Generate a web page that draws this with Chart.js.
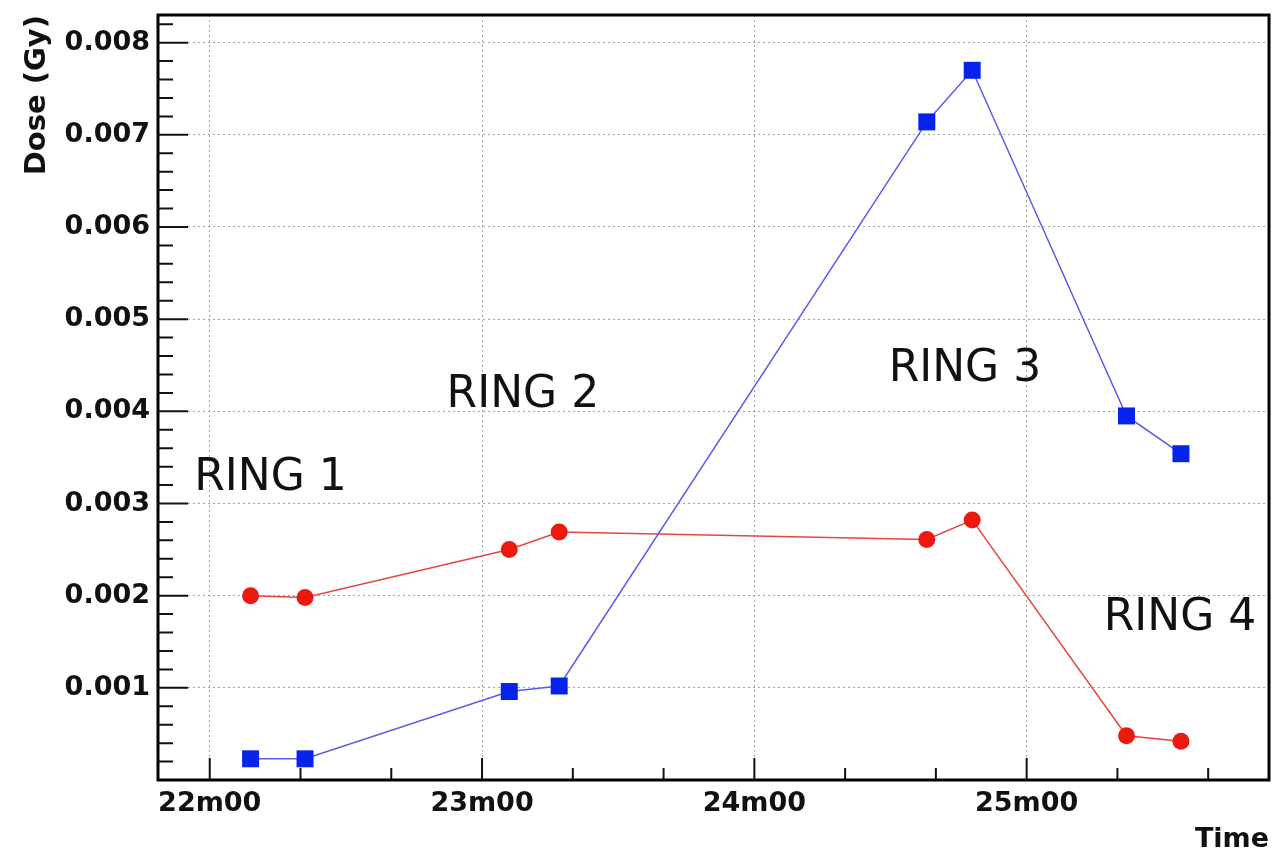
<!DOCTYPE html>
<html>
<head>
<meta charset="utf-8">
<script src="https://cdn.jsdelivr.net/npm/chart.js@4"></script>
<style>
  html, body { margin: 0; padding: 0; background: #fff; }
  canvas { display: block; }
</style>
</head>
<body>
<canvas id="doseChart" width="1281" height="856"></canvas>
<script>
// time of each measurement, in seconds
const times = [1329, 1341, 1386, 1397, 1478, 1488, 1522, 1534];
// dose readings (Gy)
const doseSquares = [0.00023, 0.00023, 0.00096, 0.00102, 0.00714, 0.0077, 0.00395, 0.00354];
const doseCircles = [0.00200, 0.00198, 0.00250, 0.00269, 0.00261, 0.00282, 0.00048, 0.00042];
// ring labels and where they sit (time, dose)
const ringNames = ['RING 1', 'RING 2', 'RING 3', 'RING 4'];
const ringTimes = [1333.4, 1389, 1486.4, 1533.8];
const ringDoses = [0.00327, 0.00417, 0.00445, 0.00175];

const tickFont = { family: 'DejaVu Sans', weight: 'bold', size: 27 };

function fmtTime(s) {
  const m = Math.floor(s / 60);
  const sec = Math.round(s - m * 60);
  return m + 'm' + String(sec).padStart(2, '0');
}

function isMajorX(v) {
  return Math.abs(v / 60 - Math.round(v / 60)) < 1e-6;
}
function isMajorY(v) {
  return Math.round(v / 0.0002) % 5 === 0;
}

// frame, inside ticks and ring labels
const frameAndLabels = {
  id: 'frameAndLabels',
  afterDatasetsDraw(chart) {
    const ctx = chart.ctx;
    const area = chart.chartArea;
    const xs = chart.scales.x;
    const ys = chart.scales.y;
    ctx.save();

    ctx.strokeStyle = '#111';
    ctx.lineWidth = 2;
    ctx.beginPath();
    for (const t of xs.ticks) {
      const px = xs.getPixelForValue(t.value);
      const len = isMajorX(t.value) ? 22 : 12;
      ctx.moveTo(px, area.bottom);
      ctx.lineTo(px, area.bottom - len);
    }
    for (const t of ys.ticks) {
      const py = ys.getPixelForValue(t.value);
      const len = isMajorY(t.value) ? 30 : 15;
      ctx.moveTo(area.left, py);
      ctx.lineTo(area.left + len, py);
    }
    ctx.stroke();

    ctx.lineWidth = 3;
    ctx.strokeStyle = '#000';
    ctx.strokeRect(area.left, area.top, area.right - area.left, area.bottom - area.top);

    ctx.fillStyle = '#111';
    ctx.font = '44px "DejaVu Sans"';
    ctx.textAlign = 'center';
    ctx.textBaseline = 'middle';
    ringNames.forEach((name, i) => {
      ctx.fillText(name, xs.getPixelForValue(ringTimes[i]), ys.getPixelForValue(ringDoses[i]));
    });
    ctx.restore();
  }
};

new Chart(document.getElementById('doseChart'), {
  type: 'line',
  data: {
    datasets: [
      {
        label: 'squares',
        data: times.map((t, i) => ({ x: t, y: doseSquares[i] })),
        borderColor: 'rgb(90, 90, 235)',
        borderWidth: 1.5,
        backgroundColor: 'rgb(5, 35, 235)',
        pointBackgroundColor: 'rgb(5, 35, 235)',
        pointBorderColor: 'rgb(5, 35, 235)',
        pointStyle: 'rect',
        pointRadius: 12,
        pointBorderWidth: 0,
        tension: 0
      },
      {
        label: 'circles',
        data: times.map((t, i) => ({ x: t, y: doseCircles[i] })),
        borderColor: 'rgb(230, 70, 60)',
        borderWidth: 1.5,
        backgroundColor: 'rgb(235, 25, 15)',
        pointBackgroundColor: 'rgb(235, 25, 15)',
        pointBorderColor: 'rgb(235, 25, 15)',
        pointStyle: 'circle',
        pointRadius: 8.5,
        pointBorderWidth: 0,
        tension: 0
      }
    ]
  },
  options: {
    responsive: false,
    animation: false,
    layout: { padding: { left: 0, top: 15, right: 9, bottom: 0 } },
    plugins: {
      legend: { display: false },
      tooltip: { enabled: false }
    },
    scales: {
      x: {
        type: 'linear',
        min: 1308.6,
        max: 1553.4,
        afterFit: (s) => { s.height = 76; s.paddingLeft = 0; s.paddingRight = 0; },
        ticks: {
          stepSize: 20,
          includeBounds: false,
          autoSkip: false,
          maxRotation: 0,
          padding: 8,
          color: '#111',
          font: tickFont,
          callback: (v) => isMajorX(v) ? fmtTime(v) : ''
        },
        grid: {
          drawTicks: false,
          lineWidth: 1,
          color: (c) => (c.tick && isMajorX(c.tick.value)) ? 'rgba(140,140,140,0.8)' : 'rgba(0,0,0,0)'
        },
        border: { display: false, dash: [2, 3] },
        title: {
          display: true,
          text: 'Time',
          align: 'end',
          color: '#111',
          font: { family: 'DejaVu Sans', weight: 'bold', size: 27 },
          padding: { top: 0, bottom: 0 }
        }
      },
      y: {
        min: 0,
        max: 0.0083,
        afterFit: (s) => { s.width = 158; s.paddingTop = 0; s.paddingBottom = 0; },
        ticks: {
          stepSize: 0.0002,
          includeBounds: false,
          autoSkip: false,
          padding: 8,
          color: '#111',
          font: tickFont,
          callback: (v) => (isMajorY(v) && v > 0) ? v.toFixed(3) : ''
        },
        grid: {
          drawTicks: false,
          lineWidth: 1,
          color: (c) => (c.tick && isMajorY(c.tick.value)) ? 'rgba(140,140,140,0.8)' : 'rgba(0,0,0,0)'
        },
        border: { display: false, dash: [2, 3] },
        title: {
          display: true,
          text: 'Dose (Gy)',
          align: 'end',
          color: '#111',
          font: { family: 'DejaVu Sans', weight: 'bold', size: 29 },
          padding: { top: 20, bottom: 0 }
        }
      }
    }
  },
  plugins: [frameAndLabels]
});
</script>
</body>
</html>
